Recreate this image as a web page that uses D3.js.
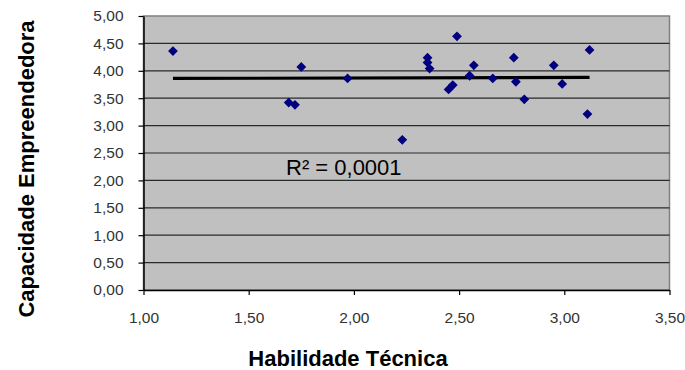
<!DOCTYPE html>
<html>
<head>
<meta charset="utf-8">
<script src="https://cdn.jsdelivr.net/npm/d3@7"></script>
<style>
  body { margin: 0; background: #fff; }
  svg { display: block; font-family: "Liberation Sans", Arial, sans-serif; }
</style>
</head>
<body>
<svg id="chart" width="685" height="370"></svg>
<script>
// ---- data ----
const habilidade = [1.14, 1.69, 1.72, 1.75, 1.97, 2.23, 2.35, 2.35, 2.36, 2.45, 2.47,
                    2.49, 2.55, 2.57, 2.66, 2.76, 2.77, 2.81, 2.95, 2.99, 3.11, 3.12];
const capacidade = [4.36, 3.42, 3.38, 4.07, 3.86, 2.74, 4.24, 4.15, 4.04, 3.66, 3.74,
                    4.63, 3.91, 4.10, 3.86, 4.24, 3.80, 3.48, 4.10, 3.76, 3.21, 4.38];
const trendX = [1.14, 3.12];
const trendY = [3.86, 3.88];
const xTicks = [1, 1.5, 2, 2.5, 3, 3.5];
const yTicks = [0, 0.5, 1, 1.5, 2, 2.5, 3, 3.5, 4, 4.5, 5];
const r2Label = 'R² = 0,0001';

const svg = d3.select('#chart');
const plotL = 143.5, plotR = 669.5, plotT = 16, plotB = 290;

const x = d3.scaleLinear().domain([1, 3.5]).range([plotL, plotR]);
const y = d3.scaleLinear().domain([0, 5]).range([plotB, plotT]);
const fmt = v => d3.format('.2f')(v).replace('.', ',');

// plot background
svg.append('rect')
    .attr('x', plotL).attr('y', plotT)
    .attr('width', plotR - plotL).attr('height', plotB - plotT)
    .attr('fill', '#c0c0c0')
    .attr('stroke', '#808080').attr('stroke-width', 1.5);

// horizontal grid
svg.append('g')
    .selectAll('line')
    .data(yTicks.filter(v => v > 0 && v < 5))
    .join('line')
    .attr('x1', plotL).attr('x2', plotR)
    .attr('y1', d => y(d)).attr('y2', d => y(d))
    .attr('stroke', '#2a2a2a').attr('stroke-width', 1.2);

// axes
const xAxis = svg.append('g')
    .attr('transform', `translate(0,${plotB})`)
    .call(d3.axisBottom(x).tickValues(xTicks).tickFormat(fmt).tickSize(5).tickPadding(17).tickSizeOuter(0));
const yAxis = svg.append('g')
    .attr('transform', `translate(${plotL},0)`)
    .call(d3.axisLeft(y).tickValues(yTicks).tickFormat(fmt).tickSize(5).tickPadding(15).tickSizeOuter(0));

[xAxis, yAxis].forEach(a => {
    a.select('.domain').attr('stroke', '#000').attr('stroke-width', 1.5);
    a.selectAll('.tick line').attr('stroke', '#000').attr('stroke-width', 1.2);
    a.selectAll('.tick text')
        .attr('fill', '#333')
        .style('font-size', '15.5px')
        .style('font-family', '"Liberation Sans", Arial, sans-serif');
});

// trend line
svg.append('line')
    .attr('x1', x(trendX[0])).attr('y1', y(trendY[0]))
    .attr('x2', x(trendX[1])).attr('y2', y(trendY[1]))
    .attr('stroke', '#000').attr('stroke-width', 3.2);

// points
const diamond = d3.symbol().type(d3.symbolSquare).size(48);
svg.append('g')
    .selectAll('path')
    .data(habilidade.map((h, i) => [h, capacidade[i]]))
    .join('path')
    .attr('d', diamond)
    .attr('transform', d => `translate(${x(d[0])},${y(d[1])}) rotate(45)`)
    .attr('fill', '#000080');

// R² label
svg.append('text')
    .attr('x', 286).attr('y', 175)
    .style('font-size', '22px')
    .attr('fill', '#000')
    .text(r2Label);

// axis titles
svg.append('text')
    .attr('x', 348).attr('y', 366)
    .attr('text-anchor', 'middle')
    .style('font-size', '22px').style('font-weight', 'bold')
    .text('Habilidade Técnica');

svg.append('text')
    .attr('transform', 'translate(33.5,169) rotate(-90)')
    .attr('text-anchor', 'middle')
    .style('font-size', '22px').style('font-weight', 'bold')
    .text('Capacidade Empreendedora');
</script>
</body>
</html>
